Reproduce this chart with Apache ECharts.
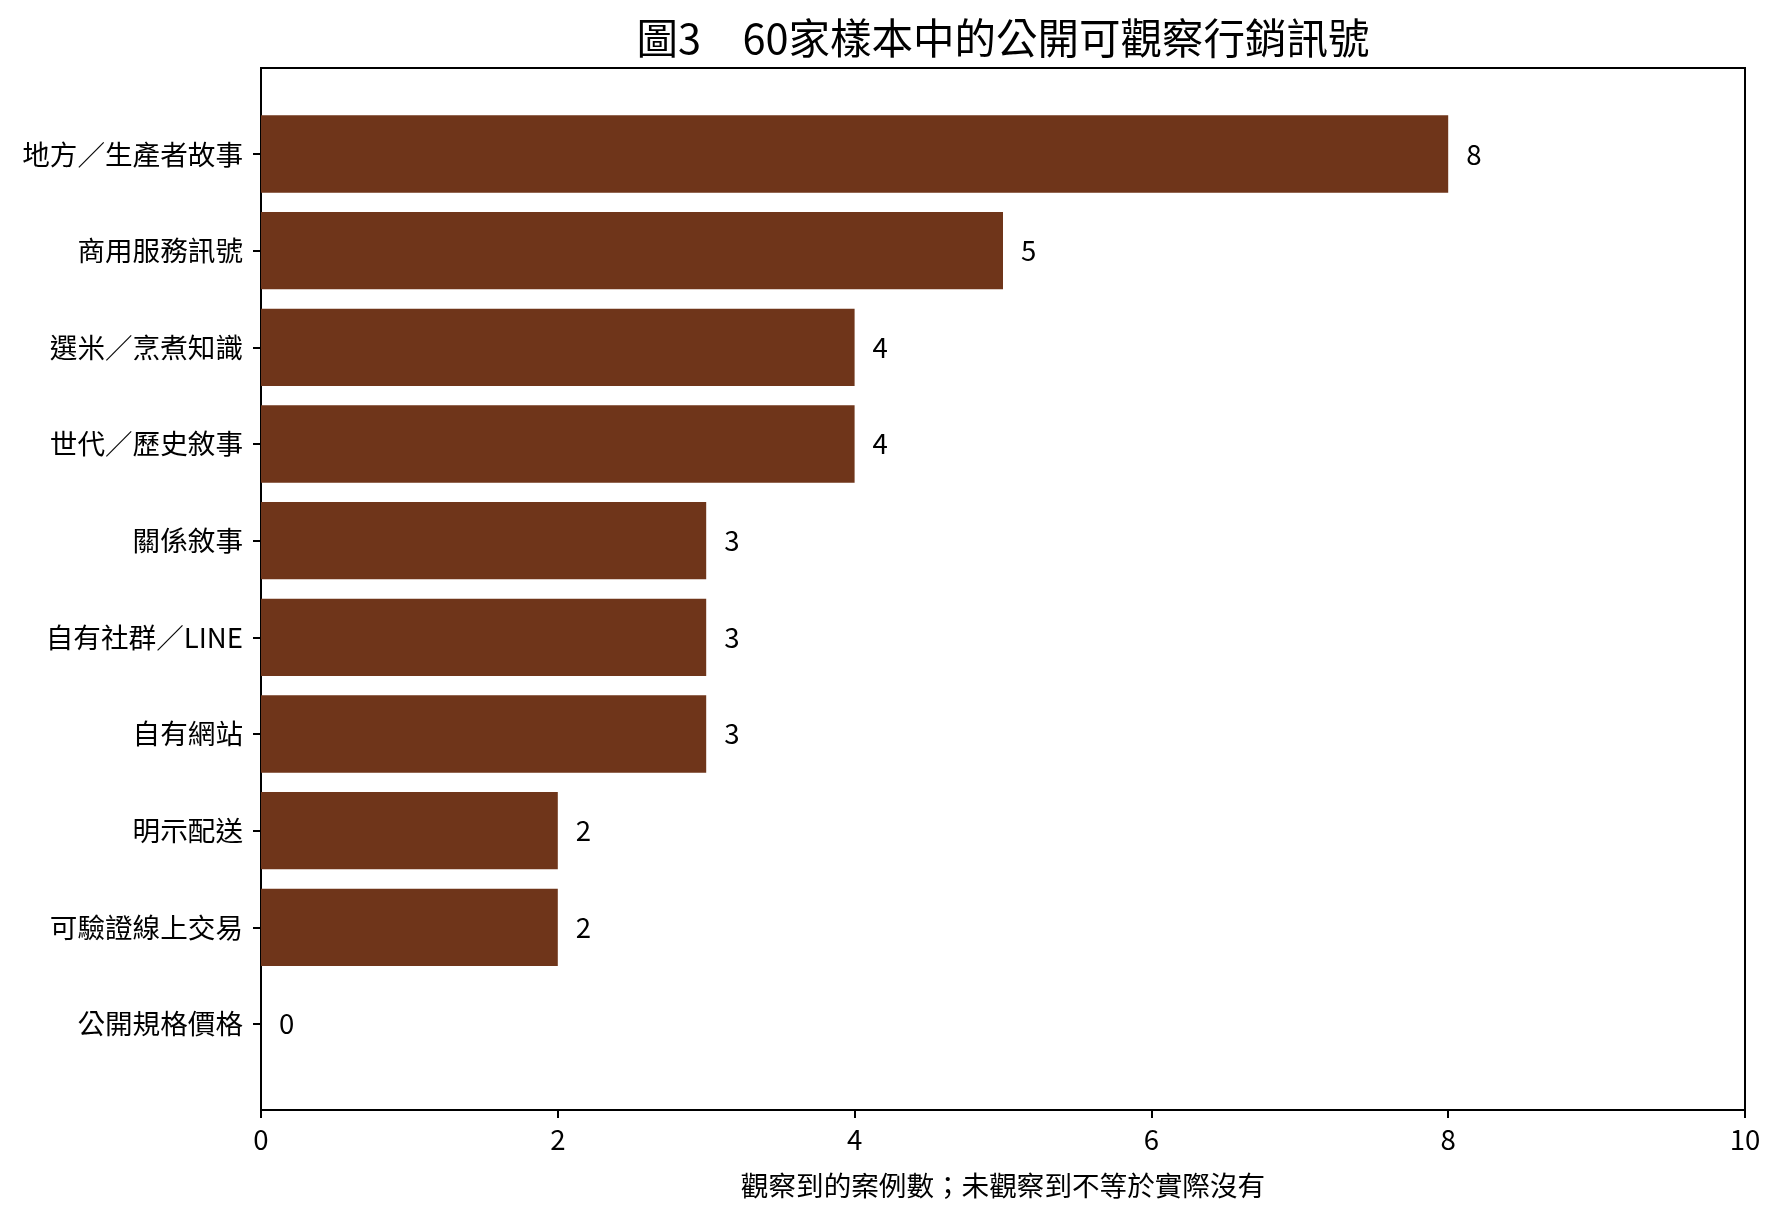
<!DOCTYPE html>
<html>
<head>
<meta charset="utf-8">
<script src="https://cdn.jsdelivr.net/npm/echarts@6/dist/echarts.min.js"></script>
<style>
html,body{margin:0;padding:0;background:#fff;}
#main{width:1779px;height:1221px;}
</style>
</head>
<body>
<div id="main"></div>
<script>
var categories = ['地方／生產者故事','商用服務訊號','選米／烹煮知識','世代／歷史敘事','關係敘事','自有社群／LINE','自有網站','明示配送','可驗證線上交易','公開規格價格'];
var counts = [8,5,4,4,3,3,3,2,2,0];
var xTicksMax = 10;

var font = '"Noto Sans CJK TC", "Noto Sans", sans-serif';
var chart = echarts.init(document.getElementById('main'));

// 外框的位置
var L = 261, R = 34, T = 68, B = 111;
// matplotlib 預設留白：上下各多 0.39 個類別寬度
var inset = (1221 - T - B) / 10.78 * 0.39;

var option = {
    backgroundColor: '#fff',
    textStyle: {fontFamily: font},
    title: {
        text: '圖3　60家樣本中的公開可觀察行銷訊號',
        left: 998,
        textAlign: 'center',
        top: 12,
        textStyle: {fontFamily: font, fontSize: 41.5, fontWeight: 'normal', color: '#000'}
    },
    grid: [
        {left: L, right: R, top: T, bottom: B, show: true, borderColor: '#000', borderWidth: 2, backgroundColor: 'transparent'},
        {left: L, right: R, top: T + inset, bottom: B + inset}
    ],
    xAxis: [
        {
            gridIndex: 0, type: 'value', min: 0, max: xTicksMax, interval: 2,
            splitLine: {show: false},
            axisLine: {show: true, lineStyle: {color: '#000', width: 2}},
            axisTick: {show: true, length: 8, lineStyle: {color: '#000', width: 2}},
            axisLabel: {fontFamily: font, fontSize: 27.6, color: '#000', margin: 16},
            name: '觀察到的案例數；未觀察到不等於實際沒有',
            nameLocation: 'middle',
            nameGap: 62,
            nameTextStyle: {fontFamily: font, fontSize: 27.6, color: '#000'}
        },
        {
            gridIndex: 1, type: 'value', min: 0, max: xTicksMax, show: false
        }
    ],
    yAxis: [
        {gridIndex: 0, type: 'value', min: 0, max: 1, show: false},
        {
            gridIndex: 1, type: 'category', data: categories, inverse: true,
            axisLine: {show: false},
            axisTick: {show: true, alignWithLabel: true, length: 8, lineStyle: {color: '#000', width: 2}},
            axisLabel: {fontFamily: font, fontSize: 27.6, color: '#000', margin: 18}
        }
    ],
    series: [
        {
            type: 'bar',
            xAxisIndex: 1,
            yAxisIndex: 1,
            data: counts,
            barCategoryGap: '20%',
            itemStyle: {color: '#6F351A'},
            label: {
                show: true, position: 'right', distance: 18,
                fontFamily: font, fontSize: 27.6, color: '#000'
            },
            animation: false
        }
    ],
    animation: false
};
chart.setOption(option);
</script>
</body>
</html>
